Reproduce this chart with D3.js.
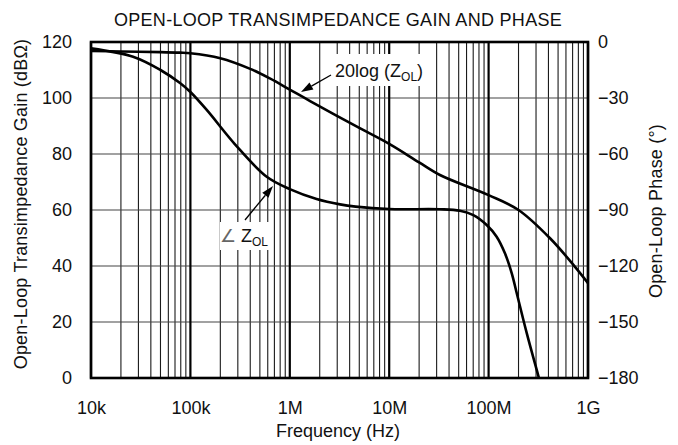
<!DOCTYPE html>
<html>
<head>
<meta charset="utf-8">
<script src="https://cdn.jsdelivr.net/npm/d3@7"></script>
<style>
	body { margin: 0; background: #fff; }
	text { font-family: "Liberation Sans", Arial, sans-serif; }
</style>
</head>
<body>
<svg id="chart" width="678" height="445"></svg>
<script>
//Axis ticks
var freqTicks = [1e4, 1e5, 1e6, 1e7, 1e8, 1e9];
var freqLabels = ["10k", "100k", "1M", "10M", "100M", "1G"];
var gainTicks = [0, 20, 40, 60, 80, 100, 120];
var phaseTicks = [0, -30, -60, -90, -120, -150, -180];

//20log(Zol)
var gainFreq = [1e4, 2e4, 5e4, 7.86e4, 1e5, 2e5, 4e5, 6.3e5, 1e6, 1.6e6, 5e6, 1e7, 2e7, 3.24e7, 1e8, 2e8, 4.15e8, 7.4e8, 1e9];
var gainDb = [116.8, 116.6, 116.4, 116.2, 116.0, 114.2, 110.4, 107.0, 103.0, 98.9, 89.3, 83.6, 77.0, 72.5, 65.3, 60, 49.9, 39.7, 33.9];

//Phase of Zol
var phaseFreq = [1e4, 2.65e4, 5e4, 7.86e4, 1e5, 1.46e5, 2.81e5, 5.86e5, 1e6, 1.86e6, 3.2e6, 4.6e6, 1e7, 3.24e7, 5.15e7, 7.02e7, 9.57e7, 1.205e8, 1.46e8, 1.71e8, 1.92e8, 2.42e8, 3.21e8];
var phaseDeg = [-3.4, -7.9, -15, -22, -26.8, -36.4, -54.8, -72.2, -78.8, -84.1, -87, -88.2, -89.5, -89.6, -90.4, -92.7, -98, -104.3, -113.2, -123.9, -134.6, -156, -180];

//Plot box (window.top is taken, so prefixed names)
var plotLeft = 91, plotRight = 588, plotTop = 42, plotBottom = 378;
var font = 18;

var svg = d3.select("#chart");

var x = d3.scaleLog().domain([1e4, 1e9]).range([plotLeft, plotRight]);
var yGain = d3.scaleLinear().domain([0, 120]).range([plotBottom, plotTop]);
var yPhase = d3.scaleLinear().domain([-180, 0]).range([plotBottom, plotTop]);

//Minor vertical grid (2..9 in each decade)
var minors = [];
for (var d = 0; d < freqTicks.length - 1; d++)
	for (var m = 2; m < 10; m++)
		minors.push(freqTicks[d] * m);

svg.append("g").selectAll("line")
	.data(minors)
	.enter().append("line")
	.attr("x1", function(f) { return x(f); })
	.attr("x2", function(f) { return x(f); })
	.attr("y1", plotTop)
	.attr("y2", plotBottom)
	.style("stroke", "#1a1a1a")
	.style("stroke-width", 1.1);

//Horizontal grid
svg.append("g").selectAll("line")
	.data(gainTicks)
	.enter().append("line")
	.attr("x1", plotLeft)
	.attr("x2", plotRight)
	.attr("y1", function(v) { return yGain(v); })
	.attr("y2", function(v) { return yGain(v); })
	.style("stroke", "#444")
	.style("stroke-width", 1.2);

//Decade lines
svg.append("g").selectAll("line")
	.data(freqTicks)
	.enter().append("line")
	.attr("x1", function(f) { return x(f); })
	.attr("x2", function(f) { return x(f); })
	.attr("y1", plotTop)
	.attr("y2", plotBottom)
	.style("stroke", "#000")
	.style("stroke-width", 2.2);

//Frame
svg.append("rect")
	.attr("x", plotLeft)
	.attr("y", plotTop)
	.attr("width", plotRight - plotLeft)
	.attr("height", plotBottom - plotTop)
	.style("fill", "none")
	.style("stroke", "#000")
	.style("stroke-width", 2.6);

//Label boxes (white, break the grid)
svg.append("rect")
	.attr("x", 332).attr("y", 54).attr("width", 96).attr("height", 32)
	.style("fill", "#fff");
svg.append("rect")
	.attr("x", 220).attr("y", 222).attr("width", 52).attr("height", 28)
	.style("fill", "#fff");

//Curves
svg.append("clipPath").attr("id", "plot")
	.append("rect")
	.attr("x", plotLeft).attr("y", plotTop)
	.attr("width", plotRight - plotLeft).attr("height", plotBottom - plotTop);

var gainLine = d3.line()
	.x(function(d, i) { return x(gainFreq[i]); })
	.y(function(d) { return yGain(d); })
	.curve(d3.curveCatmullRom.alpha(0.5));
var phaseLine = d3.line()
	.x(function(d, i) { return x(phaseFreq[i]); })
	.y(function(d) { return yPhase(d); })
	.curve(d3.curveCatmullRom.alpha(0.5));

svg.append("path")
	.attr("d", gainLine(gainDb))
	.attr("clip-path", "url(#plot)")
	.style("fill", "none")
	.style("stroke", "#000")
	.style("stroke-width", 2.6);
svg.append("path")
	.attr("d", phaseLine(phaseDeg))
	.attr("clip-path", "url(#plot)")
	.style("fill", "none")
	.style("stroke", "#000")
	.style("stroke-width", 2.6);

//Axes (labels only, grid is drawn above)
var xAxis = svg.append("g")
	.attr("transform", "translate(0," + plotBottom + ")")
	.call(d3.axisBottom(x).tickValues(freqTicks).tickSize(0).tickPadding(23)
		.tickFormat(function(f, i) { return freqLabels[i]; }));
var gAxis = svg.append("g")
	.attr("transform", "translate(" + plotLeft + ",0)")
	.call(d3.axisLeft(yGain).tickValues(gainTicks).tickSize(0).tickPadding(19));
var pAxis = svg.append("g")
	.attr("transform", "translate(" + plotRight + ",0)")
	.call(d3.axisRight(yPhase).tickValues(phaseTicks).tickSize(0).tickPadding(10)
		.tickFormat(function(v) { return v < 0 ? "\u2212" + (-v) : "" + v; }));

[xAxis, gAxis, pAxis].forEach(function(a) {
	a.select(".domain").remove();
	a.selectAll("text")
		.style("font-family", "'Liberation Sans', Arial, sans-serif")
		.style("font-size", font + "px")
		.style("fill", "#111");
});

//Titles
svg.append("text")
	.attr("x", 338)
	.attr("y", 26)
	.attr("text-anchor", "middle")
	.style("font-size", font + "px")
	.style("letter-spacing", "0.3px")
	.style("fill", "#111")
	.text("OPEN-LOOP TRANSIMPEDANCE GAIN AND PHASE");

svg.append("text")
	.attr("x", 338)
	.attr("y", 437)
	.attr("text-anchor", "middle")
	.style("font-size", font + "px")
	.style("fill", "#111")
	.text("Frequency (Hz)");

svg.append("text")
	.attr("transform", "translate(27,204) rotate(-90)")
	.attr("text-anchor", "middle")
	.style("font-size", font + "px")
	.style("letter-spacing", "0.2px")
	.style("fill", "#111")
	.text("Open-Loop Transimpedance Gain (dB\u03A9)");

svg.append("text")
	.attr("transform", "translate(662,211) rotate(-90)")
	.attr("text-anchor", "middle")
	.style("font-size", font + "px")
	.style("letter-spacing", "0.2px")
	.style("fill", "#111")
	.text("Open-Loop Phase (\u00B0)");

//Annotations
var t1 = svg.append("text")
	.attr("x", 335)
	.attr("y", 77)
	.style("font-size", font + "px")
	.style("fill", "#111");
t1.append("tspan").text("20log (Z");
t1.append("tspan").attr("dy", 4).style("font-size", "12px").text("OL");
t1.append("tspan").attr("dy", -4).text(")");

var t2 = svg.append("text")
	.attr("x", 220)
	.attr("y", 242)
	.style("font-size", font + "px")
	.style("fill", "#111");
t2.append("tspan").style("fill", "#666").text("\u2220 ");
t2.append("tspan").text("Z");
t2.append("tspan").attr("dy", 4).style("font-size", "12px").text("OL");

function arrow(x1, y1, x2, y2)
{
	var ang = Math.atan2(y2 - y1, x2 - x1), len = 12, w = 4;
	var bx = x2 - len * Math.cos(ang), by = y2 - len * Math.sin(ang);
	svg.append("line")
		.attr("x1", x1).attr("y1", y1)
		.attr("x2", bx).attr("y2", by)
		.style("stroke", "#000")
		.style("stroke-width", 1.3);
	svg.append("path")
		.attr("d", "M" + x2 + "," + y2 +
			"L" + (bx + w * Math.sin(ang)) + "," + (by - w * Math.cos(ang)) +
			"L" + (bx - w * Math.sin(ang)) + "," + (by + w * Math.cos(ang)) + "Z")
		.style("fill", "#000");
}
arrow(331, 75, 301, 92);
arrow(245, 220, 273, 186);
</script>
</body>
</html>
